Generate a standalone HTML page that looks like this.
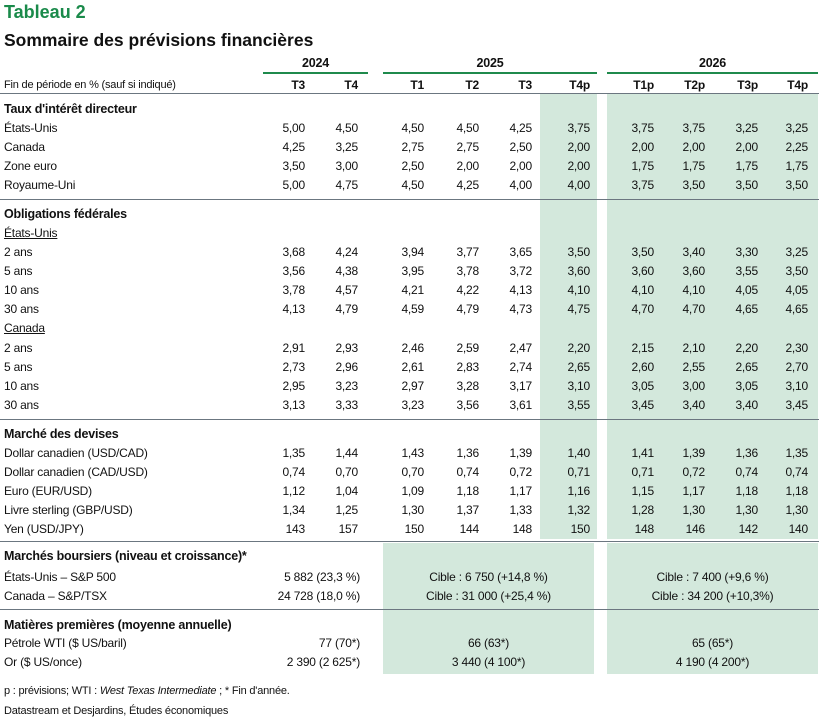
<!DOCTYPE html><html><head><meta charset="utf-8"><style>
body{margin:0;width:819px;height:723px;background:#fff;position:relative;font-family:"Liberation Sans",sans-serif;color:#111;overflow:hidden}
.a{position:absolute}
.r{position:absolute;left:0;width:819px;height:19px;line-height:19px;font-size:12px;letter-spacing:-0.2px}
.r .l{position:absolute;left:4px}
.r span{position:absolute;width:50px;text-align:right}
.c1{left:255px}.c2{left:308px}.c3{left:374px}.c4{left:429px}.c5{left:482px}.c6{left:540px}.c7{left:604px}.c8{left:655px}.c9{left:708px}.c10{left:758px}
.h{font-weight:bold;font-size:12.5px}
.g{background:#d3e8dc;position:absolute}
.ln{position:absolute;height:1px;background:#6b7680}
.gl{position:absolute;height:2px;background:#1f8a4c}
u{text-decoration:underline}
.ctr{position:absolute;text-align:center}
</style></head><body>
<div class="g" style="left:540px;top:94px;width:57px;height:445px"></div>
<div class="g" style="left:607px;top:94px;width:211px;height:445px"></div>
<div class="g" style="left:383px;top:543px;width:211px;height:131px"></div>
<div class="g" style="left:607px;top:543px;width:211px;height:131px"></div>
<div class="a" style="left:4px;top:2px;font-size:18px;font-weight:bold;color:#1a8a4a">Tableau 2</div>
<div class="a" style="left:4px;top:30px;font-size:17.5px;font-weight:bold">Sommaire des prévisions financières</div>
<div class="r h" style="top:54px"><span style="left:263px;width:105px;text-align:center">2024</span><span style="left:383px;width:214px;text-align:center">2025</span><span style="left:607px;width:211px;text-align:center">2026</span></div>
<div class="gl" style="left:263px;top:72px;width:105px"></div>
<div class="gl" style="left:383px;top:72px;width:214px"></div>
<div class="gl" style="left:607px;top:72px;width:211px"></div>
<div class="r" style="top:76px"><div class="l" style="font-size:11px">Fin de période en % (sauf si indiqué)</div><b><span class="c1">T3</span><span class="c2">T4</span><span class="c3">T1</span><span class="c4">T2</span><span class="c5">T3</span><span class="c6">T4p</span><span class="c7">T1p</span><span class="c8">T2p</span><span class="c9">T3p</span><span class="c10">T4p</span></b></div>
<div class="ln" style="left:0;top:93px;width:819px"></div>
<div class="r h" style="top:100px"><div class="l">Taux d'intérêt directeur</div></div>
<div class="r" style="top:119px"><div class="l">États-Unis</div><span class="c1">5,00</span><span class="c2">4,50</span><span class="c3">4,50</span><span class="c4">4,50</span><span class="c5">4,25</span><span class="c6">3,75</span><span class="c7">3,75</span><span class="c8">3,75</span><span class="c9">3,25</span><span class="c10">3,25</span></div>
<div class="r" style="top:138px"><div class="l">Canada</div><span class="c1">4,25</span><span class="c2">3,25</span><span class="c3">2,75</span><span class="c4">2,75</span><span class="c5">2,50</span><span class="c6">2,00</span><span class="c7">2,00</span><span class="c8">2,00</span><span class="c9">2,00</span><span class="c10">2,25</span></div>
<div class="r" style="top:157px"><div class="l">Zone euro</div><span class="c1">3,50</span><span class="c2">3,00</span><span class="c3">2,50</span><span class="c4">2,00</span><span class="c5">2,00</span><span class="c6">2,00</span><span class="c7">1,75</span><span class="c8">1,75</span><span class="c9">1,75</span><span class="c10">1,75</span></div>
<div class="r" style="top:176px"><div class="l">Royaume-Uni</div><span class="c1">5,00</span><span class="c2">4,75</span><span class="c3">4,50</span><span class="c4">4,25</span><span class="c5">4,00</span><span class="c6">4,00</span><span class="c7">3,75</span><span class="c8">3,50</span><span class="c9">3,50</span><span class="c10">3,50</span></div>
<div class="ln" style="left:0;top:199px;width:819px"></div>
<div class="r h" style="top:205px"><div class="l">Obligations fédérales</div></div>
<div class="r" style="top:224px"><div class="l"><u>États-Unis</u></div></div>
<div class="r" style="top:243px"><div class="l">2 ans</div><span class="c1">3,68</span><span class="c2">4,24</span><span class="c3">3,94</span><span class="c4">3,77</span><span class="c5">3,65</span><span class="c6">3,50</span><span class="c7">3,50</span><span class="c8">3,40</span><span class="c9">3,30</span><span class="c10">3,25</span></div>
<div class="r" style="top:262px"><div class="l">5 ans</div><span class="c1">3,56</span><span class="c2">4,38</span><span class="c3">3,95</span><span class="c4">3,78</span><span class="c5">3,72</span><span class="c6">3,60</span><span class="c7">3,60</span><span class="c8">3,60</span><span class="c9">3,55</span><span class="c10">3,50</span></div>
<div class="r" style="top:281px"><div class="l">10 ans</div><span class="c1">3,78</span><span class="c2">4,57</span><span class="c3">4,21</span><span class="c4">4,22</span><span class="c5">4,13</span><span class="c6">4,10</span><span class="c7">4,10</span><span class="c8">4,10</span><span class="c9">4,05</span><span class="c10">4,05</span></div>
<div class="r" style="top:300px"><div class="l">30 ans</div><span class="c1">4,13</span><span class="c2">4,79</span><span class="c3">4,59</span><span class="c4">4,79</span><span class="c5">4,73</span><span class="c6">4,75</span><span class="c7">4,70</span><span class="c8">4,70</span><span class="c9">4,65</span><span class="c10">4,65</span></div>
<div class="r" style="top:319px"><div class="l"><u>Canada</u></div></div>
<div class="r" style="top:339px"><div class="l">2 ans</div><span class="c1">2,91</span><span class="c2">2,93</span><span class="c3">2,46</span><span class="c4">2,59</span><span class="c5">2,47</span><span class="c6">2,20</span><span class="c7">2,15</span><span class="c8">2,10</span><span class="c9">2,20</span><span class="c10">2,30</span></div>
<div class="r" style="top:358px"><div class="l">5 ans</div><span class="c1">2,73</span><span class="c2">2,96</span><span class="c3">2,61</span><span class="c4">2,83</span><span class="c5">2,74</span><span class="c6">2,65</span><span class="c7">2,60</span><span class="c8">2,55</span><span class="c9">2,65</span><span class="c10">2,70</span></div>
<div class="r" style="top:377px"><div class="l">10 ans</div><span class="c1">2,95</span><span class="c2">3,23</span><span class="c3">2,97</span><span class="c4">3,28</span><span class="c5">3,17</span><span class="c6">3,10</span><span class="c7">3,05</span><span class="c8">3,00</span><span class="c9">3,05</span><span class="c10">3,10</span></div>
<div class="r" style="top:396px"><div class="l">30 ans</div><span class="c1">3,13</span><span class="c2">3,33</span><span class="c3">3,23</span><span class="c4">3,56</span><span class="c5">3,61</span><span class="c6">3,55</span><span class="c7">3,45</span><span class="c8">3,40</span><span class="c9">3,40</span><span class="c10">3,45</span></div>
<div class="ln" style="left:0;top:419px;width:819px"></div>
<div class="r h" style="top:425px"><div class="l">Marché des devises</div></div>
<div class="r" style="top:444px"><div class="l">Dollar canadien (USD/CAD)</div><span class="c1">1,35</span><span class="c2">1,44</span><span class="c3">1,43</span><span class="c4">1,36</span><span class="c5">1,39</span><span class="c6">1,40</span><span class="c7">1,41</span><span class="c8">1,39</span><span class="c9">1,36</span><span class="c10">1,35</span></div>
<div class="r" style="top:463px"><div class="l">Dollar canadien (CAD/USD)</div><span class="c1">0,74</span><span class="c2">0,70</span><span class="c3">0,70</span><span class="c4">0,74</span><span class="c5">0,72</span><span class="c6">0,71</span><span class="c7">0,71</span><span class="c8">0,72</span><span class="c9">0,74</span><span class="c10">0,74</span></div>
<div class="r" style="top:482px"><div class="l">Euro (EUR/USD)</div><span class="c1">1,12</span><span class="c2">1,04</span><span class="c3">1,09</span><span class="c4">1,18</span><span class="c5">1,17</span><span class="c6">1,16</span><span class="c7">1,15</span><span class="c8">1,17</span><span class="c9">1,18</span><span class="c10">1,18</span></div>
<div class="r" style="top:501px"><div class="l">Livre sterling (GBP/USD)</div><span class="c1">1,34</span><span class="c2">1,25</span><span class="c3">1,30</span><span class="c4">1,37</span><span class="c5">1,33</span><span class="c6">1,32</span><span class="c7">1,28</span><span class="c8">1,30</span><span class="c9">1,30</span><span class="c10">1,30</span></div>
<div class="r" style="top:520px"><div class="l">Yen (USD/JPY)</div><span class="c1">143</span><span class="c2">157</span><span class="c3">150</span><span class="c4">144</span><span class="c5">148</span><span class="c6">150</span><span class="c7">148</span><span class="c8">146</span><span class="c9">142</span><span class="c10">140</span></div>
<div class="ln" style="left:0;top:541px;width:819px"></div>
<div class="r h" style="top:547px"><div class="l">Marchés boursiers (niveau et croissance)*</div></div>
<div class="r" style="top:568px"><div class="l">États-Unis – S&amp;P 500</div><span style="left:250px;width:110px">5 882 (23,3 %)</span><span style="left:383px;width:211px;text-align:center">Cible : 6 750 (+14,8 %)</span><span style="left:607px;width:211px;text-align:center">Cible : 7 400 (+9,6 %)</span></div>
<div class="r" style="top:587px"><div class="l">Canada – S&amp;P/TSX</div><span style="left:250px;width:110px">24 728 (18,0 %)</span><span style="left:383px;width:211px;text-align:center">Cible : 31 000 (+25,4 %)</span><span style="left:607px;width:211px;text-align:center">Cible : 34 200 (+10,3%)</span></div>
<div class="ln" style="left:0;top:609px;width:819px"></div>
<div class="r h" style="top:616px"><div class="l">Matières premières (moyenne annuelle)</div></div>
<div class="r" style="top:634px"><div class="l">Pétrole WTI ($ US/baril)</div><span style="left:250px;width:110px">77 (70*)</span><span style="left:383px;width:211px;text-align:center">66 (63*)</span><span style="left:607px;width:211px;text-align:center">65 (65*)</span></div>
<div class="r" style="top:653px"><div class="l">Or ($ US/once)</div><span style="left:250px;width:110px">2 390 (2 625*)</span><span style="left:383px;width:211px;text-align:center">3 440 (4 100*)</span><span style="left:607px;width:211px;text-align:center">4 190 (4 200*)</span></div>
<div class="r" style="top:682px;font-size:11px"><div class="l">p : prévisions; WTI : <i>West Texas Intermediate</i> ; * Fin d'année.</div></div>
<div class="r" style="top:702px;font-size:11px"><div class="l">Datastream et Desjardins, Études économiques</div></div>
</body></html>
